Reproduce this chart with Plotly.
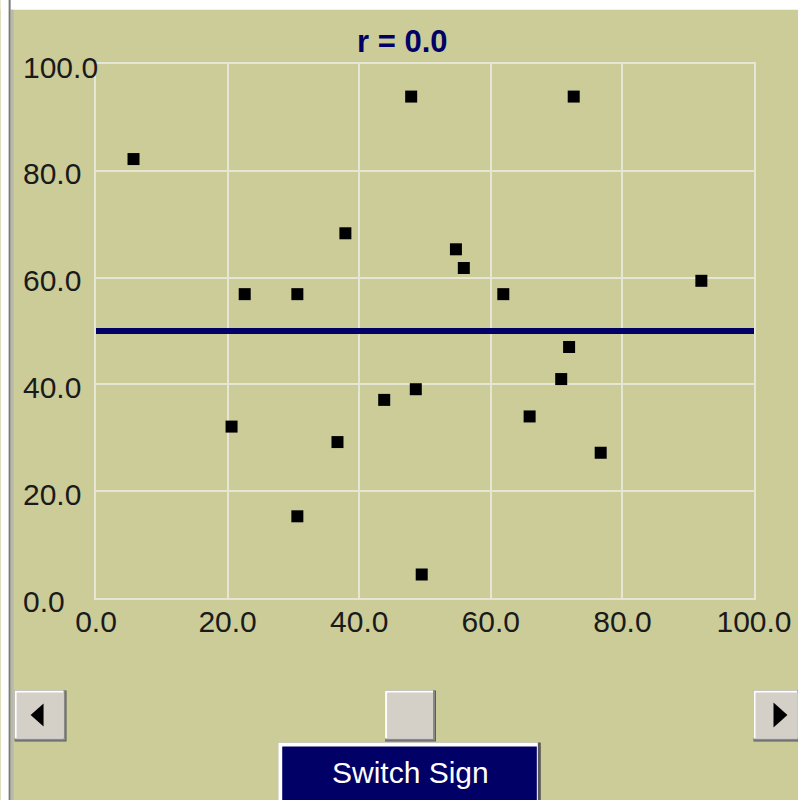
import plotly.graph_objects as go

# ---- data ----
x_vals = [5.7, 47.9, 72.6, 22.6, 30.6, 37.9, 54.7, 55.9, 61.9, 92.0,
          71.9, 70.7, 48.6, 43.8, 65.9, 20.6, 36.7, 76.7, 30.6, 49.5]
y_vals = [82.2, 93.9, 93.9, 56.9, 56.9, 68.3, 65.3, 61.8, 56.9, 59.4,
          47.0, 41.0, 39.1, 37.1, 34.0, 32.1, 29.2, 27.2, 15.3, 4.4]
line_x = [0, 100]
line_y = [50, 50]
tick_vals = [0, 20, 40, 60, 80, 100]
tick_text = ["0.0", "20.0", "40.0", "60.0", "80.0", "100.0"]
title_text = "r = 0.0"
button_text = "Switch Sign"

W, H = 798, 800
L, R, T, B = 95.5, 754.5, 64.3, 597.7

TAN = "#CCCC99"
GRID = "#E6E6D4"
NAVY = "#000066"
FACE = "#D4D0C8"
FONT = "Liberation Sans, Arial, sans-serif"


def px(x):
    return (x - L) / (R - L)


def py(y):
    return (B - y) / (B - T)


fig = go.Figure()
fig.add_trace(go.Scatter(x=line_x, y=line_y, mode="lines",
                         line=dict(color=NAVY, width=6), hoverinfo="skip"))
fig.add_trace(go.Scatter(x=x_vals, y=y_vals, mode="markers",
                         marker=dict(symbol="square", size=12, color="black",
                                     line=dict(width=0))))

shapes = []


def rect(x0, y0, x1, y1, color, layer="above"):
    shapes.append(dict(type="rect", xref="paper", yref="paper",
                       x0=px(x0), x1=px(x1), y0=py(y1), y1=py(y0),
                       fillcolor=color, line=dict(width=0), layer=layer))


def tri(pts, color):
    path = "M " + " L ".join(f"{px(a):.5f},{py(b):.5f}" for a, b in pts) + " Z"
    shapes.append(dict(type="path", xref="paper", yref="paper", path=path,
                       fillcolor=color, line=dict(width=0), layer="above"))


def button(x0, y0, x1, y1):
    rect(x0, y0, x1, y1, "#5A5A5A")
    rect(x0, y0, x1 - 1, y1 - 1, "#8A8A8A")
    rect(x0, y0, x1 - 3, y1 - 3, "#FFFFFF")
    rect(x0 + 2, y0 + 2, x1 - 3, y1 - 3, FACE)


# window frame
rect(0, 0, 9, 800, "#FFFFFF", "below")
rect(0, 0, 800, 10, "#FFFFFF", "below")
rect(8, 0, 10, 800, "#7A7A7A", "below")
rect(10, 10, 13, 800, "#B8B8B0", "below")

# scrollbar
button(14, 690, 66, 741)
tri([(30, 714.5), (43, 703), (43, 726)], "black")
button(385, 690, 436, 741)
button(754, 690, 801, 741)
tri([(774, 702), (774, 727), (788, 714.5)], "black")

# switch sign button
rect(278, 742, 541, 803, "#5A5A5A")
rect(278, 742, 538, 803, "#FFFFFF")
rect(282, 746, 537, 803, NAVY)

annotations = []
for v, t in zip(tick_vals, tick_text):
    annotations.append(dict(x=px(20), xref="paper", y=v, yref="y", text=t,
                            showarrow=False, xanchor="left", yanchor="middle",
                            yshift=-3, font=dict(family=FONT, size=30, color="#1A1A1A")))
annotations.append(dict(x=px(402), xref="paper", y=py(42), yref="paper", text=f"<b>{title_text}</b>",
                        showarrow=False, xanchor="center", yanchor="middle",
                        font=dict(family=FONT, size=31, color=NAVY)))
annotations.append(dict(x=px(410), xref="paper", y=py(772), yref="paper", text=button_text,
                        showarrow=False, xanchor="center", yanchor="middle",
                        font=dict(family=FONT, size=30, color="#FFFFFF")))

axis_common = dict(range=[0, 100], tickvals=tick_vals, ticktext=tick_text,
                   showgrid=True, gridcolor=GRID, gridwidth=2,
                   zeroline=False, showline=True, linecolor=GRID, linewidth=2,
                   mirror=True, fixedrange=True, automargin=False)

fig.update_layout(
    width=W, height=H, autosize=False,
    margin=dict(l=L, r=W - R, t=T, b=H - B, pad=0),
    paper_bgcolor=TAN, plot_bgcolor=TAN,
    showlegend=False,
    xaxis=dict(**axis_common, ticks="", ticklabelstandoff=-4,
               tickfont=dict(family=FONT, size=30, color="#1A1A1A")),
    yaxis=dict(**axis_common, showticklabels=False),
    shapes=shapes,
    annotations=annotations,
)

post = ("document.body.style.margin='0';"
        "document.body.style.overflow='hidden';"
        "document.documentElement.style.overflow='hidden';")
fig.write_html("out.html", config={"displayModeBar": False, "responsive": False},
               post_script=post)
